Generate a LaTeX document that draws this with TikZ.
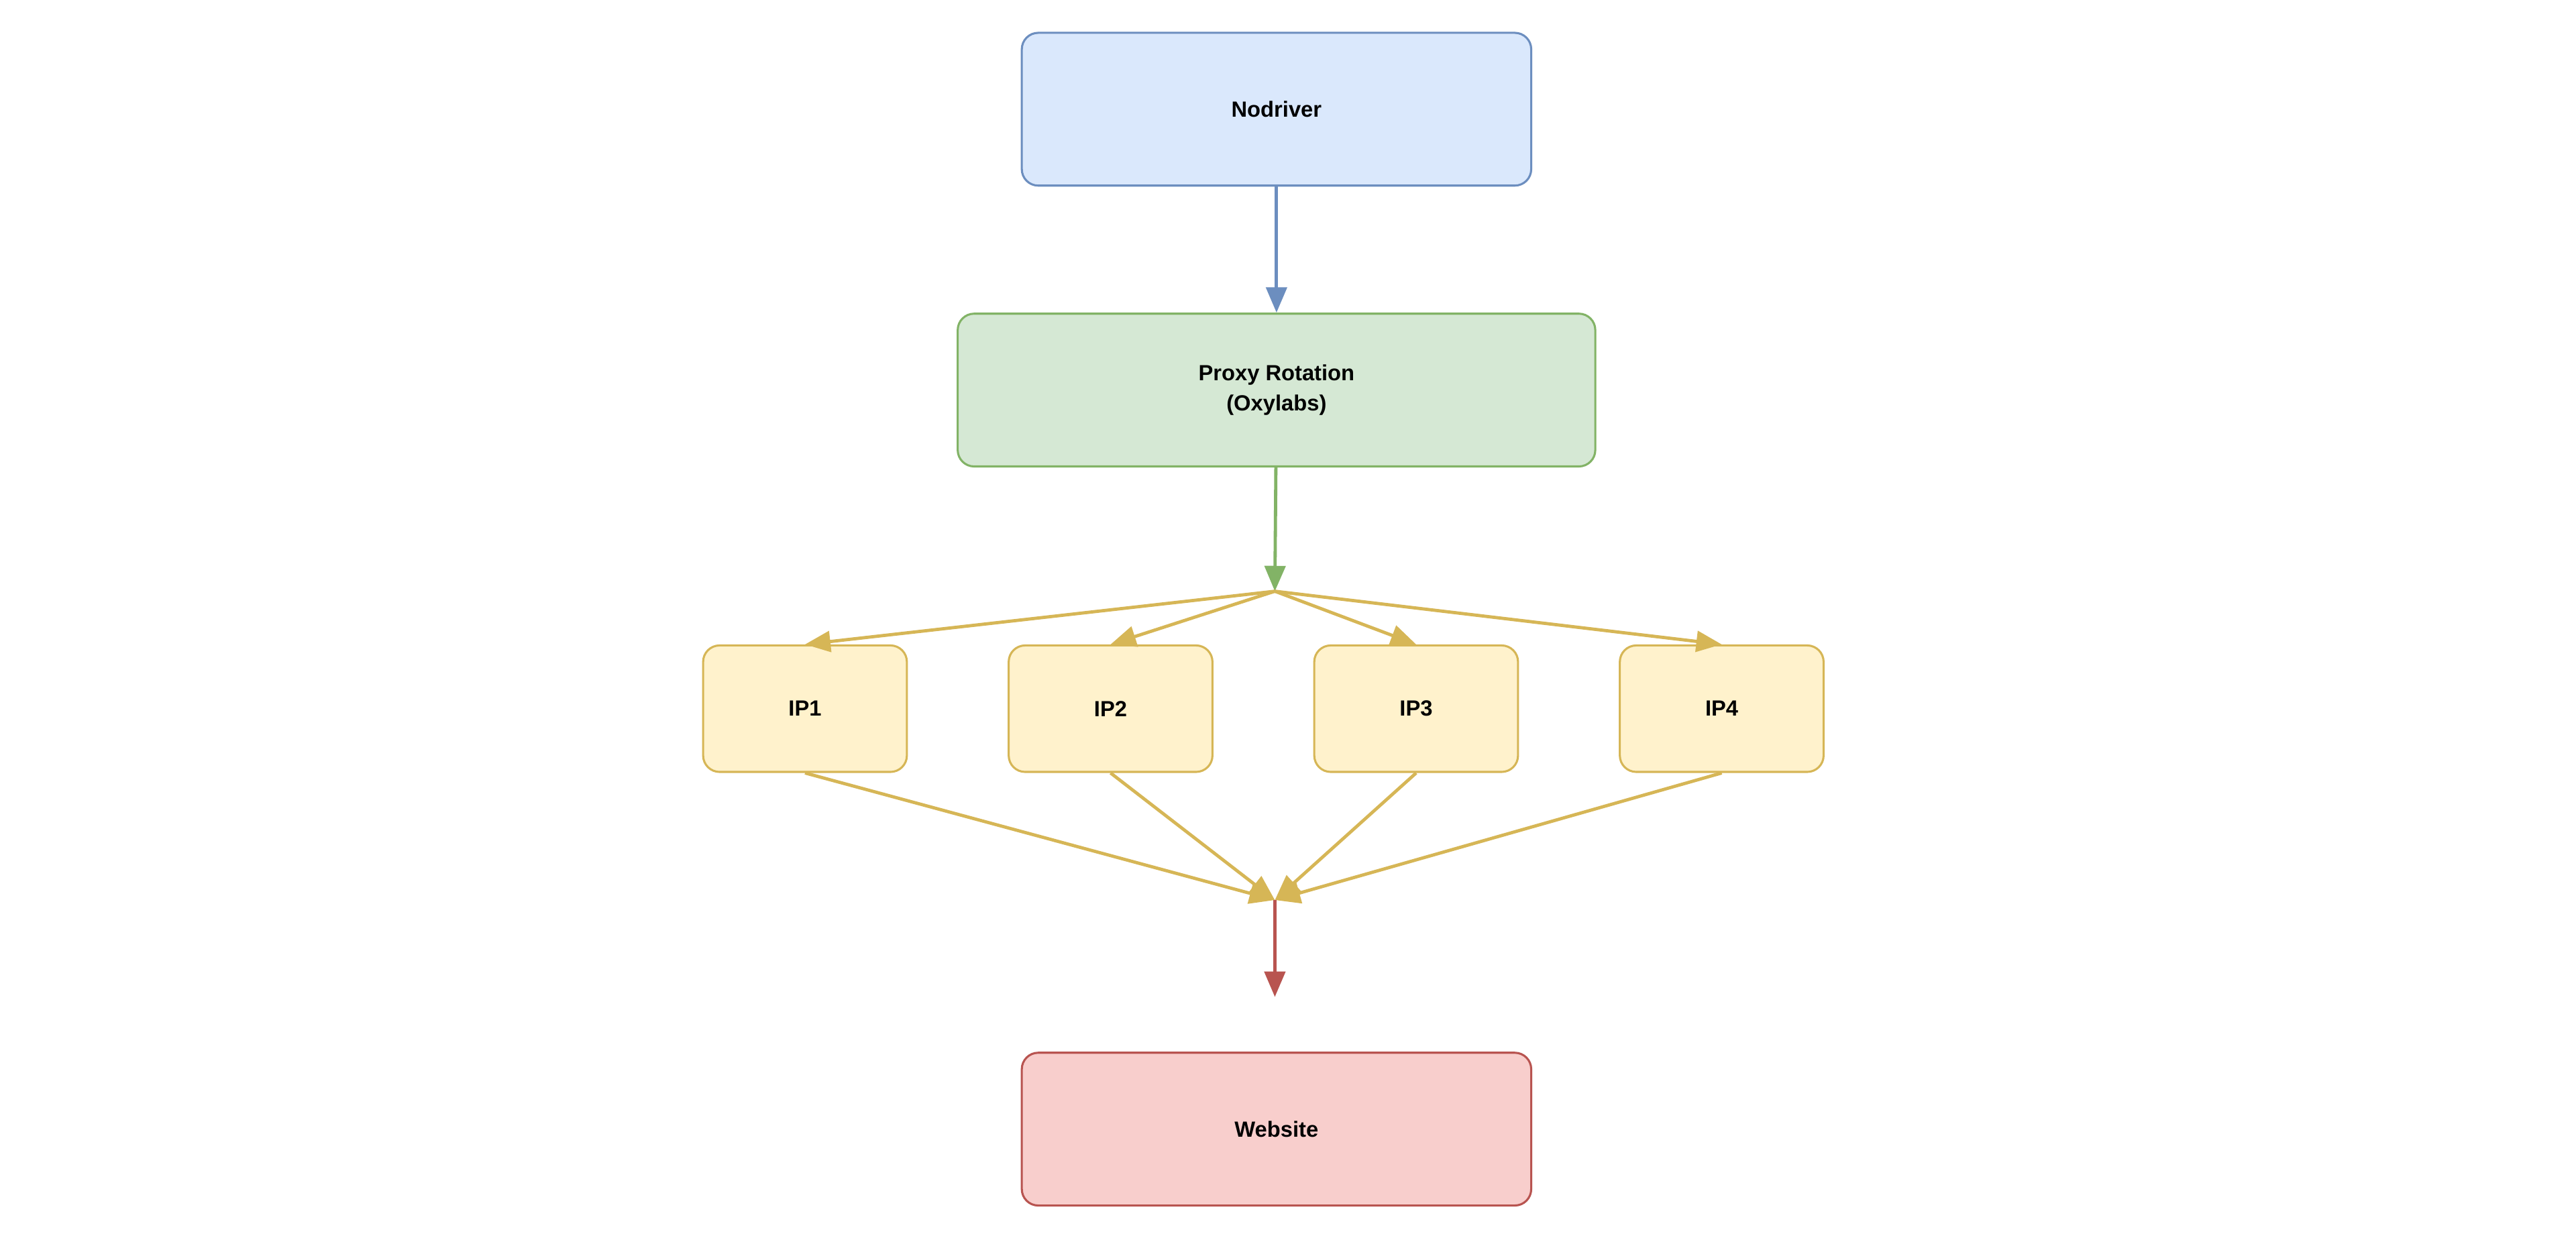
\documentclass[tikz,border=0pt]{standalone}
\usepackage{fontspec}
\setmainfont{Liberation Sans}
\usetikzlibrary{arrows.meta}
\definecolor{blueF}{HTML}{DAE8FC}\definecolor{blueD}{HTML}{6C8EBF}
\definecolor{greenF}{HTML}{D5E8D4}\definecolor{greenD}{HTML}{82B366}
\definecolor{yellowF}{HTML}{FFF2CC}\definecolor{yellowD}{HTML}{D6B656}
\definecolor{redF}{HTML}{F8CECC}\definecolor{redD}{HTML}{B85450}
\begin{document}
\begin{tikzpicture}[x=0.025cm,y=-0.025cm,line width=1.4pt,-{Triangle[length=11pt,width=9pt]}]
  \tikzstyle{box}=[draw,rounded corners=0.25cm,align=center,font=\bfseries\fontsize{9.5}{13}\selectfont,line width=0.9pt]
  \tikzstyle{big}=[box,minimum width=7.75cm,minimum height=2.325cm]
  \tikzstyle{ip}=[box,fill=yellowF,draw=yellowD,minimum width=3.1cm,minimum height=1.925cm]

  \useasboundingbox (0,0) rectangle (1568,755);

  \node[big,fill=blueF,draw=blueD] (nodriver) at (777,66.5) {Nodriver};
  \node[big,fill=greenF,draw=greenD,minimum width=9.7cm] (proxy) at (777,237.5) {Proxy Rotation\\(Oxylabs)};
  \node[big,fill=redF,draw=redD] (website) at (777,687.5) {Website};

  \foreach \name / \x in {1/490,2/676,3/862,4/1048}
    \node[ip] (IP-\name) at (\x,431.5) {IP\name};

  \coordinate (split) at (776,360);
  \coordinate (merge) at (776,548);
  \coordinate (in) at (776,607);

  \draw[blueD] (nodriver) -- (proxy);
  \draw[greenD] (proxy) -- (split);
  \foreach \name in {1,...,4}
    \draw[yellowD] (split) -- (IP-\name.north);
  \foreach \name in {1,...,4}
    \draw[yellowD] (IP-\name.south) -- (merge);
  \draw[redD] (merge) -- (in);
\end{tikzpicture}
\end{document}
